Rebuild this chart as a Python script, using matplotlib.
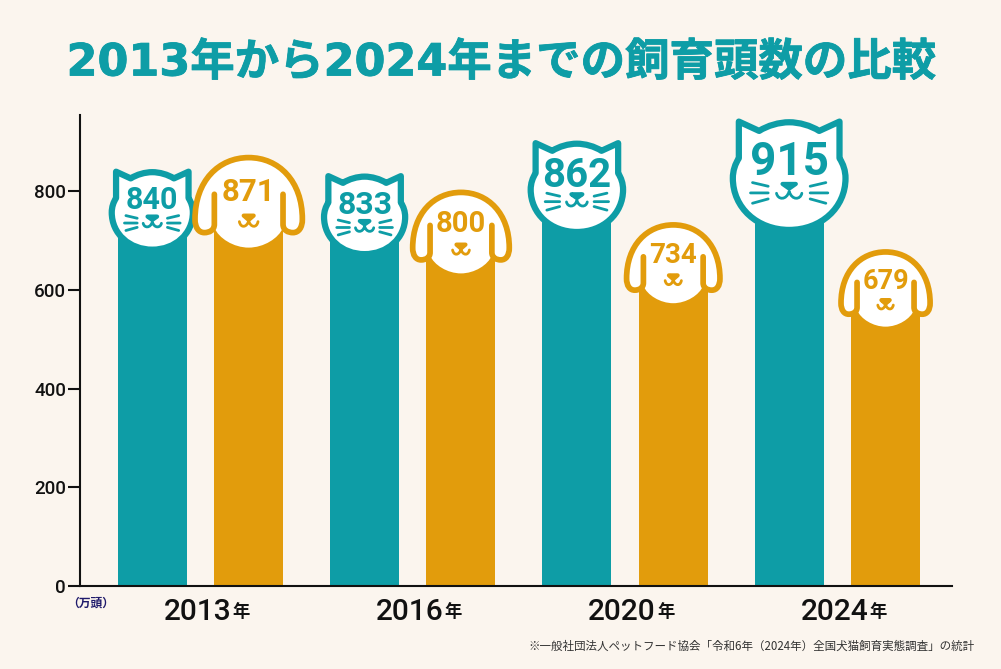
import matplotlib
matplotlib.use("Agg")
import matplotlib.pyplot as plt
import matplotlib.patheffects as pe
from matplotlib.patches import PathPatch, Rectangle
from matplotlib.path import Path
from matplotlib.transforms import Affine2D, IdentityTransform

# data
years = ["2013", "2016", "2020", "2024"]
cats = [840, 833, 862, 915]
dogs = [871, 800, 734, 679]
y_ticks = [0, 200, 400, 600, 800]

# head drawing sizes, the heads are not all to the same scale
cat_scale = [0.72, 0.72, 0.82, 1.0]
cat_lift = [2, 1, 20, 16]
cat_font = [22, 23, 29, 33]
dog_scale = [1.0, 0.9, 0.87, 0.83]
dog_font = [22.5, 21, 20, 19.5]

TEAL = "#0E9DA6"
ORANGE = "#E29C0C"
BG = "#FBF5EE"
NUM_FONT = "Roboto"
CJK = ["Noto Sans CJK JP", "DejaVu Sans"]

M, L, C, Z = Path.MOVETO, Path.LINETO, Path.CURVE4, Path.CLOSEPOLY


def make_path(parts):
    verts, codes = [], []
    for code, pts in parts:
        verts += pts
        if code == C:
            codes += [C, C, C]
        elif code == Z:
            codes += [Z]
        else:
            codes += [code]
    return Path(verts, codes)


# cat outline, centred on the face, y pointing down
cat_outline = make_path([
    (M, [(-151, -167)]),
    (L, [(-90, -139)]),
    (C, [(-65, -155), (-30, -165), (0, -165)]),
    (C, [(30, -165), (65, -155), (90, -139)]),
    (L, [(151, -167)]),
    (L, [(151, -57)]),
    (C, [(162, -40), (169, -20), (169, 3)]),
    (C, [(169, 92), (95, 158), (0, 158)]),
    (C, [(-95, 158), (-169, 92), (-169, 3)]),
    (C, [(-169, -20), (-162, -40), (-151, -57)]),
    (Z, [(-151, -167)]),
])
cat_nose = make_path([
    (M, [(-20, 20)]),
    (L, [(20, 20)]),
    (L, [(0, 34)]),
    (Z, [(-20, 20)]),
])
cat_lines = make_path([
    (M, [(-38, 48)]),
    (C, [(-34, 68), (-8, 70), (0, 42)]),
    (C, [(8, 70), (34, 68), (38, 48)]),
    (M, [(-63, 27)]), (L, [(-110, 16)]),
    (M, [(-63, 47)]), (L, [(-116, 47)]),
    (M, [(-63, 65)]), (L, [(-110, 78)]),
    (M, [(63, 27)]), (L, [(110, 16)]),
    (M, [(63, 47)]), (L, [(116, 47)]),
    (M, [(63, 65)]), (L, [(110, 78)]),
])

# dog outline, dome and floppy ears, open at the inner ear lines
dog_outline = make_path([
    (M, [(-103, -30)]),
    (L, [(-103, 60)]),
    (C, [(-103, 78), (-118, 85), (-133, 85)]),
    (C, [(-150, 85), (-161, 70), (-161, 45)]),
    (C, [(-161, -70), (-90, -140), (0, -140)]),
    (C, [(90, -140), (161, -70), (161, 45)]),
    (C, [(161, 70), (150, 85), (133, 85)]),
    (C, [(118, 85), (103, 78), (103, 60)]),
    (L, [(103, -30)]),
])
dog_fill = make_path([
    (M, [(-133, 85)]),
    (C, [(-150, 85), (-161, 70), (-161, 45)]),
    (C, [(-161, -70), (-90, -140), (0, -140)]),
    (C, [(90, -140), (161, -70), (161, 45)]),
    (C, [(161, 70), (150, 85), (133, 85)]),
    (L, [(103, 70)]),
    (C, [(90, 102), (45, 130), (0, 130)]),
    (C, [(-45, 130), (-90, 102), (-103, 70)]),
    (Z, [(-133, 85)]),
])
dog_nose = make_path([
    (M, [(-15, 34)]),
    (L, [(15, 34)]),
    (L, [(0, 47)]),
    (Z, [(-15, 34)]),
])
dog_lines = make_path([
    (M, [(-28, 52)]),
    (C, [(-24, 72), (-6, 70), (0, 50)]),
    (C, [(6, 70), (24, 72), (28, 52)]),
])


def add_shape(ax, path, cx, cy, s, lw, edge, face="none", z=5):
    # sizes in the paths are 3x pixels at scale 1
    tr = Affine2D().scale(s / 3, -s / 3).translate(cx, cy)
    patch = PathPatch(path, transform=tr, facecolor=face, edgecolor=edge, linewidth=lw,
                      joinstyle="round", capstyle="round", zorder=z, clip_on=False)
    ax.add_artist(patch)


def clip_bar(bar, ax, cy):
    box = bar.get_window_extent()
    rect = Rectangle((box.x0, box.y0), box.width, cy - box.y0, transform=IdentityTransform())
    bar.set_clip_path(rect)


fig = plt.figure(figsize=(10.01, 6.69), dpi=100, facecolor=BG)
ax = fig.add_axes([80 / 1001, 83 / 669, 872 / 1001, 471 / 669], facecolor=BG)
ax.set_xlim(-0.5676, 3.540)
ax.set_ylim(0, 954)

x = list(range(len(years)))
cat_bars = ax.bar([i - 0.227 for i in x], cats, width=0.325, color=TEAL, zorder=2)
dog_bars = ax.bar([i + 0.227 for i in x], dogs, width=0.325, color=ORANGE, zorder=2)

fig.canvas.draw()

for i in x:
    # cat
    cx, vy = ax.transData.transform((i - 0.227, cats[i]))
    s = cat_scale[i]
    cy = vy + cat_lift[i] - 59 * s
    clip_bar(cat_bars[i], ax, cy)
    add_shape(ax, cat_outline, cx, cy, s, 4.5, TEAL, "white")
    add_shape(ax, cat_nose, cx, cy, s, 3.0, TEAL, TEAL, z=6)
    add_shape(ax, cat_lines, cx, cy, s, 2.0, TEAL, z=6)
    ax.text(cx, cy + 20 * s, str(cats[i]), transform=IdentityTransform(), color=TEAL,
            fontsize=cat_font[i], family=NUM_FONT, fontweight="bold",
            ha="center", va="center_baseline", zorder=7)

    # dog
    cx, vy = ax.transData.transform((i + 0.227, dogs[i]))
    s = dog_scale[i]
    cy = vy + 1 - 49.3 * s
    clip_bar(dog_bars[i], ax, cy)
    add_shape(ax, dog_fill, cx, cy, s, 0, "none", "white")
    add_shape(ax, dog_outline, cx, cy, s, 4.1, ORANGE, z=6)
    add_shape(ax, dog_nose, cx, cy, s, 3.0, ORANGE, ORANGE, z=6)
    add_shape(ax, dog_lines, cx, cy, s, 2.0, ORANGE, z=6)
    ax.text(cx, cy + 15 * s, str(dogs[i]), transform=IdentityTransform(), color=ORANGE,
            fontsize=dog_font[i], family=NUM_FONT, fontweight="bold",
            ha="center", va="center_baseline", zorder=7)

# axes
for side in ["top", "right"]:
    ax.spines[side].set_visible(False)
for side in ["left", "bottom"]:
    ax.spines[side].set_linewidth(1.5)
    ax.spines[side].set_color("#111111")
    ax.spines[side].set_zorder(8)
ax.set_yticks(y_ticks)
ax.tick_params(axis="y", length=8.6, width=1.5, color="#111111", pad=1.5)
for lab in ax.get_yticklabels():
    lab.set_fontsize(13.5)
    lab.set_fontfamily(NUM_FONT)
    lab.set_fontweight("medium")
    lab.set_color("#111111")

# year labels sit under the groups, the small 年 hangs on the right
ax.set_xticks([])
for i, yr in zip(x, years):
    t = ax.annotate(yr, xy=(i, 0), xycoords="data", xytext=(31 / 1.389, -23 / 1.389),
                    textcoords="offset points", ha="right", va="center_baseline",
                    fontsize=21.5, family=NUM_FONT, fontweight="medium", color="#111111",
                    annotation_clip=False)
    ax.annotate("年", xy=(i, 0), xycoords="data", xytext=(32 / 1.389, -24 / 1.389),
                textcoords="offset points", ha="left", va="center_baseline",
                fontsize=12.5, family=CJK, fontweight="bold", color="#111111",
                annotation_clip=False)

fig.text(91 / 1001, 1 - 603 / 669, "（万頭）", family=CJK, fontweight="bold", fontsize=8.5,
         color="#1F1A6B", ha="center", va="center")

title = fig.text(502 / 1001, 1 - 63 / 669, "2013年から2024年までの飼育頭数の比較",
                 family=["DejaVu Sans", "Noto Sans CJK JP"], fontweight="bold", fontsize=32,
                 color=TEAL, ha="center", va="center")
title.set_path_effects([pe.withStroke(linewidth=0.6, foreground=TEAL)])

fig.text(975 / 1001, 1 - 646 / 669, "※一般社団法人ペットフード協会「令和6年（2024年）全国犬猫飼育実態調査」の統計",
         family=CJK, fontsize=8.3, color="#333333", ha="right", va="center")

fig.savefig("out.png", dpi=100, facecolor=BG)
